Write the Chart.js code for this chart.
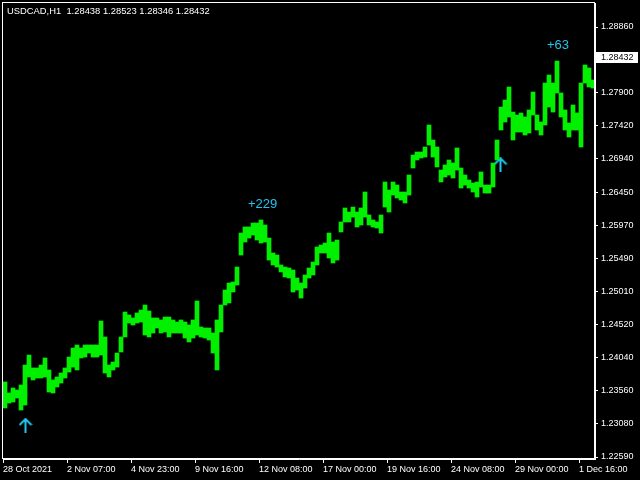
<!DOCTYPE html>
<html>
<head>
<meta charset="utf-8">
<script src="https://cdn.jsdelivr.net/npm/chart.js@4.4.1/dist/chart.umd.min.js"></script>
<style>
html, body { margin: 0; padding: 0; background: #000; }
canvas { display: block; }
</style>
</head>
<body>
<canvas id="chart" width="640" height="480"></canvas>
<script>
// bar highs and lows (each bar = a few H1 candles)
let barHigh = [
  1.23684, 1.23523, 1.23596, 1.23567, 1.23640, 1.23931, 1.24077, 1.23888, 1.23888, 1.23931,
  1.24034, 1.23859, 1.23713, 1.23757, 1.23815, 1.23888, 1.24048, 1.24179, 1.24223, 1.24179,
  1.24223, 1.24223, 1.24223, 1.24223, 1.24573, 1.24340, 1.23931, 1.23975, 1.24106, 1.24340,
  1.24704, 1.24661, 1.24617, 1.24690, 1.24733, 1.24806, 1.24719, 1.24617, 1.24617, 1.24588,
  1.24631, 1.24631, 1.24588, 1.24558, 1.24588, 1.24558, 1.24515, 1.24588, 1.24865, 1.24486,
  1.24471, 1.24471, 1.24398, 1.24588, 1.24806, 1.25025, 1.25127, 1.25142, 1.25360, 1.25856,
  1.25944, 1.25944, 1.26002, 1.26002, 1.26046, 1.25973, 1.25783, 1.25565, 1.25535, 1.25390,
  1.25360, 1.25346, 1.25317, 1.25200, 1.25127, 1.25244, 1.25346, 1.25433, 1.25652, 1.25681,
  1.25710, 1.25856, 1.25725, 1.25754, 1.26017, 1.26221, 1.26162, 1.26235, 1.26162, 1.26221,
  1.26454, 1.26119, 1.26046, 1.26017, 1.26119, 1.26600, 1.26483, 1.26600, 1.26556, 1.26454,
  1.26454, 1.26702, 1.26993, 1.27037, 1.27037, 1.27110, 1.27431, 1.27212, 1.27110, 1.26775,
  1.26848, 1.26921, 1.26877, 1.27096, 1.26804, 1.26702, 1.26629, 1.26585, 1.26600, 1.26746,
  1.26556, 1.26556, 1.26877, 1.27212, 1.27693, 1.27795, 1.27985, 1.27620, 1.27577, 1.27606,
  1.27548, 1.27650, 1.27912, 1.27577, 1.27475, 1.28043, 1.28160, 1.28043, 1.28364, 1.27898,
  1.27650, 1.27460, 1.27723, 1.27606, 1.28043, 1.28306, 1.28262, 1.28087
]
let barLow = [
  1.23305, 1.23377, 1.23392, 1.23450, 1.23275, 1.23348, 1.23757, 1.23713, 1.23742, 1.23742,
  1.23757, 1.23538, 1.23523, 1.23611, 1.23669, 1.23742, 1.23829, 1.23902, 1.23859, 1.24034,
  1.24048, 1.24106, 1.24048, 1.24048, 1.24077, 1.23815, 1.23757, 1.23859, 1.23902, 1.24121,
  1.24340, 1.24544, 1.24515, 1.24544, 1.24558, 1.24369, 1.24340, 1.24398, 1.24471, 1.24398,
  1.24413, 1.24340, 1.24398, 1.24398, 1.24398, 1.24325, 1.24267, 1.24325, 1.24369, 1.24340,
  1.24325, 1.24296, 1.24106, 1.23859, 1.24413, 1.24806, 1.24836, 1.24996, 1.25098, 1.25535,
  1.25725, 1.25783, 1.25827, 1.25754, 1.25710, 1.25725, 1.25462, 1.25390, 1.25360, 1.25288,
  1.25215, 1.25200, 1.24996, 1.25025, 1.24908, 1.25054, 1.25200, 1.25244, 1.25390, 1.25565,
  1.25565, 1.25492, 1.25419, 1.25462, 1.25871, 1.26017, 1.26017, 1.26089, 1.25944, 1.25973,
  1.26089, 1.25973, 1.25944, 1.25929, 1.25856, 1.26235, 1.26162, 1.26410, 1.26367, 1.26337,
  1.26294, 1.26410, 1.26804, 1.26921, 1.26950, 1.26964, 1.27139, 1.26964, 1.26819, 1.26600,
  1.26673, 1.26702, 1.26658, 1.26775, 1.26512, 1.26556, 1.26512, 1.26454, 1.26381, 1.26527,
  1.26439, 1.26439, 1.26527, 1.26921, 1.27358, 1.27475, 1.27548, 1.27212, 1.27329, 1.27329,
  1.27285, 1.27314, 1.27577, 1.27358, 1.27285, 1.27431, 1.27693, 1.27620, 1.27898, 1.27548,
  1.27358, 1.27256, 1.27358, 1.27358, 1.27110, 1.28043, 1.27985, 1.27970
]

// time axis labels and the bar index where each one sits
let timeLabels = ['28 Oct 2021', '2 Nov 07:00', '4 Nov 23:00', '9 Nov 16:00', '12 Nov 08:00',
  '17 Nov 00:00', '19 Nov 16:00', '24 Nov 08:00', '29 Nov 00:00', '1 Dec 16:00']
let timeTickIdx = [0, 16, 32, 48, 64, 80, 96, 112, 128, 144]

// price axis
let priceTicks = ['1.28860', '1.27900', '1.27420', '1.26940', '1.26450', '1.25970', '1.25490',
  '1.25010', '1.24520', '1.24040', '1.23560', '1.23080', '1.22590']
let priceMin = 1.22561
let priceMax = 1.29210
let lastPrice = '1.28432'
let headerText = 'USDCAD,H1  1.28438 1.28523 1.28346 1.28432'

// buy arrows and the pip labels
let arrowIdx = [5.625, 124.375]
let arrowPrice = [1.23049, 1.26851]
let signalText = ['+229', '+63']
let signalIdx = [64.9, 138.75]
let signalPrice = [1.26272, 1.28590]

let barCount = barHigh.length
let cyan = '#22c4ee'
let font9 = '9px "Liberation Sans", Arial, sans-serif'

// small arrow picture used as point style
let arrowImg = document.createElement('canvas')
arrowImg.width = 14
arrowImg.height = 15
let actx = arrowImg.getContext('2d')
actx.strokeStyle = cyan
actx.lineWidth = 2
actx.beginPath()
actx.moveTo(7, 1)
actx.lineTo(7, 15)
actx.moveTo(1, 7)
actx.lineTo(7, 1)
actx.lineTo(13, 7)
actx.stroke()

let barData = barHigh.map(function(h, i) {
  return { x: i + 0.5, y: [barLow[i], h] }
})
let arrowData = arrowIdx.map(function(v, i) {
  return { x: v, y: arrowPrice[i] }
})

// frame, header, signal text, last price box
let decorPlugin = {
  id: 'decor',
  afterDraw: function(chart) {
    let ctx = chart.ctx
    let a = chart.chartArea
    let xs = chart.scales.x
    let ys = chart.scales.y
    ctx.save()
    ctx.strokeStyle = '#ffffff'
    ctx.lineWidth = 1
    ctx.strokeRect(a.left - 0.5, a.top - 0.5, a.right - a.left, a.bottom - a.top)

    ctx.fillStyle = '#ffffff'
    ctx.font = '9.4px "Liberation Sans", Arial, sans-serif'
    ctx.textBaseline = 'middle'
    ctx.textAlign = 'left'
    ctx.fillText(headerText, 7, 11)

    ctx.fillStyle = cyan
    ctx.font = '13px "Liberation Sans", Arial, sans-serif'
    ctx.textAlign = 'center'
    for (let i = 0; i < signalText.length; i++) {
      ctx.fillText(signalText[i], xs.getPixelForValue(signalIdx[i]), ys.getPixelForValue(signalPrice[i]))
    }

    let py = Math.round(ys.getPixelForValue(parseFloat(lastPrice))) + 1.5
    ctx.fillStyle = '#ffffff'
    ctx.fillRect(a.right + 1, py - 5.5, 42, 11)
    ctx.fillStyle = '#000000'
    ctx.font = font9
    ctx.textAlign = 'left'
    ctx.fillText(lastPrice, a.right + 6, py)
    ctx.restore()
  }
}

let elCanvas = document.getElementById('chart')
let chart = new Chart(elCanvas.getContext('2d'), {
  type: 'bar',
  data: {
    datasets: [
      {
        type: 'bar',
        data: barData,
        backgroundColor: '#00f000',
        borderWidth: 0,
        barPercentage: 1,
        categoryPercentage: 1
      },
      {
        type: 'scatter',
        data: arrowData,
        pointStyle: arrowImg,
        pointRadius: 7
      }
    ]
  },
  options: {
    responsive: false,
    animation: false,
    devicePixelRatio: 1,
    layout: { autoPadding: false, padding: { left: 3, top: 3, right: 0, bottom: 0 } },
    plugins: { legend: { display: false }, tooltip: { enabled: false } },
    scales: {
      x: {
        type: 'linear',
        min: 0,
        max: barCount,
        offset: false,
        grid: { offset: false, drawOnChartArea: false, color: '#ffffff', tickLength: 4 },
        border: { color: '#ffffff' },
        afterBuildTicks: function(scale) {
          scale.ticks = timeTickIdx.map(function(v) { return { value: v } })
        },
        afterFit: function(scale) {
          scale.height = 21
          scale.paddingLeft = 0
          scale.paddingRight = 0
        },
        ticks: {
          autoSkip: false,
          maxRotation: 0,
          align: 'start',
          padding: 1,
          color: '#ffffff',
          font: { family: '"Liberation Sans", Arial, sans-serif', size: 9 },
          callback: function(v, i) { return timeLabels[i] }
        }
      },
      y: {
        position: 'right',
        min: priceMin,
        max: priceMax,
        grid: { drawOnChartArea: false, color: '#ffffff', tickLength: 3 },
        border: { color: '#ffffff' },
        afterBuildTicks: function(scale) {
          scale.ticks = priceTicks.map(function(t) { return { value: parseFloat(t) } })
        },
        afterFit: function(scale) {
          scale.width = 45
          scale.paddingTop = 0
          scale.paddingBottom = 0
        },
        ticks: {
          padding: 3,
          color: '#ffffff',
          font: { family: '"Liberation Sans", Arial, sans-serif', size: 9 },
          callback: function(v, i) { return priceTicks[i] }
        }
      }
    }
  },
  plugins: [decorPlugin]
})
</script>
</body>
</html>
